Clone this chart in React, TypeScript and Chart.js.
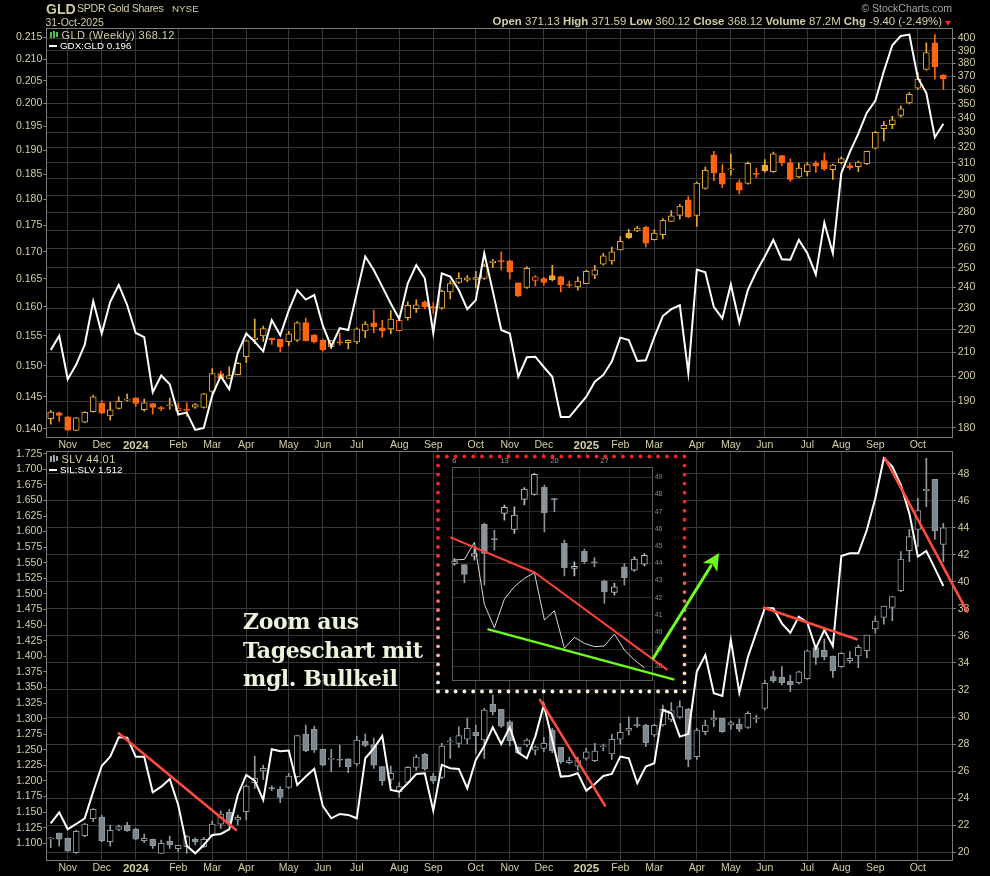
import React, { useEffect, useRef } from "react";
import { Chart, registerables } from "chart.js";
Chart.register(...registerables);

// ---------------- DATA ----------------
// weekly bars, index 0 = week of 23-Oct-2023 ... index 105 = week of 27-Oct-2025
const monthTickIdx = [2, 6, 10, 15, 19, 23, 28, 32, 36, 41, 45, 50, 54, 58, 63, 67, 71, 76, 80, 84, 89, 93, 97, 102];
const monthTickLabels = ["Nov", "Dec", "2024", "Feb", "Mar", "Apr", "May", "Jun", "Jul", "Aug", "Sep", "Oct", "Nov", "Dec", "2025", "Feb", "Mar", "Apr", "May", "Jun", "Jul", "Aug", "Sep", "Oct"];

const gldOpen = [183.4, 185.6, 184.1, 179.0, 182.1, 186.0, 189.3, 184.4, 187.3, 190.5, 191.4, 186.8, 189.1, 187.4, 188.3, 186.4, 186.6, 187.8, 187.7, 193.9, 201.2, 199.2, 200.7, 208.2, 215.7, 217.3, 216.4, 215.8, 214.8, 215.4, 223.3, 217.8, 215.4, 212.5, 214.3, 214.3, 214.6, 219.5, 223.2, 220.9, 220.5, 219.7, 225.6, 229.8, 232.9, 230.4, 230.0, 237.9, 242.5, 243.6, 244.0, 244.5, 252.6, 253.3, 253.5, 242.3, 240.0, 243.5, 244.4, 246.0, 245.4, 241.3, 240.3, 241.9, 246.1, 251.8, 253.5, 259.3, 268.4, 269.6, 271.6, 264.7, 267.5, 274.9, 278.2, 287.3, 278.2, 294.1, 315.1, 303.3, 305.5, 297.6, 297.1, 303.0, 308.5, 304.4, 314.6, 310.0, 301.1, 304.4, 309.6, 311.4, 305.6, 310.0, 308.3, 307.5, 309.4, 319.4, 332.4, 335.2, 341.6, 350.5, 361.2, 375.4, 396.6, 371.13];
const gldHigh = [186.5, 185.9, 184.2, 183.9, 186.0, 192.5, 190.3, 189.7, 191.8, 192.9, 191.4, 190.9, 189.1, 188.1, 191.3, 189.4, 189.4, 189.1, 193.2, 203.2, 202.2, 204.0, 205.8, 215.4, 224.9, 221.7, 216.4, 215.8, 219.4, 223.8, 225.4, 217.8, 215.8, 215.4, 218.6, 215.6, 221.0, 223.8, 229.2, 224.4, 228.9, 224.6, 233.0, 234.0, 233.5, 232.7, 238.7, 243.3, 247.4, 246.0, 248.1, 251.8, 254.3, 258.2, 253.9, 242.3, 250.5, 246.0, 245.1, 251.2, 245.5, 243.2, 245.3, 248.6, 251.2, 257.4, 260.7, 266.5, 270.5, 272.1, 272.1, 270.2, 276.4, 281.0, 284.7, 289.2, 298.0, 307.3, 317.3, 308.9, 315.6, 299.4, 310.4, 306.7, 312.1, 316.9, 314.6, 312.5, 309.8, 310.2, 311.1, 316.3, 309.2, 313.8, 310.0, 311.1, 317.5, 330.5, 337.6, 341.0, 348.4, 358.0, 373.1, 396.6, 403.2, 371.59];
const gldLow = [181.3, 182.3, 179.0, 178.9, 181.9, 185.8, 185.3, 182.8, 187.0, 190.1, 188.0, 186.2, 185.1, 186.4, 187.0, 185.1, 184.2, 187.3, 187.4, 193.2, 199.1, 199.1, 200.6, 205.7, 213.9, 214.9, 213.5, 210.3, 212.9, 214.8, 215.1, 214.2, 210.6, 211.7, 213.2, 211.6, 213.9, 216.5, 218.6, 216.8, 218.3, 219.4, 224.4, 228.0, 229.7, 227.6, 229.5, 234.4, 242.0, 242.8, 239.8, 244.0, 250.0, 248.8, 244.2, 235.5, 239.5, 240.8, 241.1, 243.3, 237.8, 240.0, 238.7, 241.9, 244.4, 251.2, 251.8, 259.1, 265.5, 269.1, 260.9, 264.5, 265.1, 274.8, 276.1, 277.0, 272.0, 293.7, 298.9, 294.5, 302.2, 290.8, 296.7, 300.7, 304.0, 304.0, 308.2, 298.4, 300.7, 301.8, 304.0, 305.1, 299.6, 309.2, 305.6, 304.4, 309.0, 319.0, 324.3, 332.4, 340.5, 349.8, 360.3, 374.9, 368.0, 360.12];
const gldClose = [185.9, 184.6, 179.1, 183.7, 185.8, 191.8, 185.5, 186.7, 190.0, 190.9, 189.2, 189.4, 187.7, 187.2, 188.5, 187.4, 186.5, 188.8, 193.0, 201.2, 199.2, 200.3, 205.4, 215.1, 216.5, 220.6, 215.7, 212.5, 218.3, 223.2, 215.1, 214.6, 211.3, 215.2, 214.2, 215.4, 220.5, 222.7, 221.4, 219.7, 224.9, 224.4, 231.4, 231.6, 230.8, 230.3, 238.2, 242.0, 244.7, 244.8, 245.0, 250.8, 253.4, 253.1, 247.7, 235.9, 249.6, 245.3, 242.5, 243.9, 241.4, 241.0, 243.2, 248.1, 248.9, 256.1, 258.2, 263.9, 265.8, 271.1, 262.9, 268.4, 275.5, 278.0, 283.7, 277.6, 297.3, 305.3, 303.6, 296.7, 305.8, 293.1, 309.6, 302.7, 304.8, 315.8, 310.0, 299.6, 306.7, 308.9, 307.8, 305.9, 308.5, 312.7, 306.8, 310.4, 317.3, 330.0, 334.8, 338.6, 346.3, 356.8, 368.0, 388.7, 377.5, 368.12];
const gdxGldRatio = [0.1526, 0.1550, 0.1478, 0.1502, 0.1535, 0.1610, 0.1554, 0.1609, 0.1639, 0.1603, 0.1555, 0.1548, 0.1457, 0.1484, 0.1470, 0.1422, 0.1425, 0.1398, 0.1401, 0.1452, 0.1483, 0.1462, 0.1521, 0.1554, 0.1540, 0.1524, 0.1577, 0.1551, 0.1594, 0.1630, 0.1613, 0.1621, 0.1568, 0.1532, 0.1563, 0.1560, 0.1624, 0.1691, 0.1666, 0.1636, 0.1606, 0.1579, 0.1642, 0.1675, 0.1651, 0.1555, 0.1660, 0.1654, 0.1630, 0.1596, 0.1612, 0.1697, 0.1628, 0.1560, 0.1554, 0.1482, 0.1514, 0.1515, 0.1498, 0.1482, 0.1418, 0.1418, 0.1434, 0.1450, 0.1474, 0.1485, 0.1507, 0.1547, 0.1543, 0.1508, 0.1509, 0.1548, 0.1584, 0.1596, 0.1603, 0.1488, 0.1667, 0.1662, 0.1600, 0.1580, 0.1640, 0.1573, 0.1630, 0.1663, 0.1691, 0.1722, 0.1686, 0.1685, 0.1722, 0.1697, 0.1658, 0.1755, 0.1697, 0.1853, 0.1896, 0.1935, 0.1980, 0.2006, 0.2072, 0.2132, 0.2154, 0.2157, 0.2057, 0.2023, 0.1927, 0.1956];

const slvOpen = [20.98, 21.41, 21.04, 19.95, 21.21, 22.47, 22.59, 20.77, 21.68, 21.98, 21.70, 20.84, 20.94, 19.90, 20.81, 20.25, 20.39, 20.94, 20.39, 21.21, 22.07, 22.94, 22.37, 22.99, 25.14, 26.00, 24.78, 24.64, 24.79, 25.58, 28.74, 29.09, 27.63, 26.86, 26.82, 26.91, 26.52, 28.20, 27.95, 26.32, 25.38, 24.47, 25.16, 26.27, 27.23, 25.63, 25.53, 28.17, 28.05, 28.35, 28.89, 28.30, 30.96, 30.57, 29.65, 27.75, 27.93, 27.55, 27.68, 29.04, 27.75, 26.62, 26.37, 26.94, 26.77, 27.80, 27.26, 28.35, 29.00, 29.43, 29.41, 28.67, 29.41, 29.83, 29.98, 30.57, 27.06, 28.91, 29.78, 29.90, 29.41, 29.48, 29.23, 29.85, 30.64, 32.99, 32.94, 32.64, 32.54, 32.84, 35.14, 34.94, 34.52, 33.73, 34.17, 34.52, 34.91, 36.52, 37.38, 38.12, 39.36, 42.32, 43.90, 46.77, 47.60, 42.79];
const slvHigh = [21.08, 21.41, 21.04, 21.60, 22.12, 23.21, 22.72, 22.00, 22.00, 22.20, 21.75, 21.33, 20.96, 20.89, 21.19, 20.49, 21.21, 21.06, 21.09, 22.30, 23.06, 23.16, 22.74, 24.96, 27.11, 26.44, 24.91, 24.84, 25.83, 28.67, 29.41, 29.33, 27.63, 27.60, 27.93, 26.91, 28.59, 28.74, 28.44, 26.32, 26.37, 25.14, 26.32, 27.19, 27.31, 25.83, 28.05, 28.47, 29.28, 29.90, 29.41, 30.64, 31.63, 30.57, 29.73, 27.80, 28.40, 27.85, 28.49, 29.16, 27.75, 27.01, 27.01, 27.68, 28.05, 28.00, 28.72, 29.53, 30.02, 29.98, 29.46, 29.46, 30.89, 31.06, 31.19, 30.64, 29.16, 29.78, 30.47, 29.90, 29.70, 29.85, 30.40, 30.15, 32.74, 33.41, 33.73, 33.11, 33.41, 34.96, 35.14, 35.78, 34.52, 34.77, 34.84, 35.33, 36.07, 37.48, 38.22, 38.91, 42.25, 43.90, 46.20, 49.16, 47.60, 44.35];
const slvLow = [20.32, 20.44, 20.07, 19.90, 21.14, 22.25, 20.77, 20.44, 21.58, 21.53, 20.89, 20.69, 20.27, 19.90, 20.27, 20.02, 19.90, 20.52, 20.35, 21.14, 21.75, 22.00, 22.00, 22.37, 24.72, 25.38, 24.54, 23.65, 24.72, 25.53, 27.43, 27.38, 26.37, 25.95, 26.32, 25.88, 26.37, 27.80, 26.20, 24.96, 25.04, 24.05, 25.04, 26.07, 26.07, 25.09, 25.43, 26.94, 27.75, 28.00, 27.31, 26.94, 30.15, 29.23, 27.85, 27.31, 27.80, 27.19, 27.43, 27.36, 26.57, 26.52, 26.07, 26.81, 26.69, 27.51, 26.86, 28.00, 28.67, 29.23, 27.80, 28.54, 29.33, 29.65, 29.90, 26.32, 26.86, 28.67, 29.28, 28.86, 29.09, 28.91, 29.16, 29.58, 30.52, 32.54, 32.37, 31.88, 32.45, 32.79, 33.90, 34.22, 32.94, 33.68, 33.98, 33.66, 34.40, 36.20, 36.87, 37.14, 39.28, 41.51, 42.62, 45.58, 43.16, 41.51];
const slvClose = [21.02, 20.96, 20.07, 21.53, 22.07, 23.16, 20.84, 21.60, 21.88, 21.58, 20.96, 21.01, 20.47, 20.64, 20.54, 20.49, 21.14, 20.77, 20.94, 22.07, 22.82, 22.25, 22.57, 24.89, 25.46, 26.20, 24.70, 24.05, 25.63, 28.62, 27.51, 27.56, 26.44, 26.90, 26.80, 26.32, 28.30, 27.90, 26.44, 25.28, 25.83, 24.84, 26.27, 27.04, 26.15, 25.28, 27.85, 28.20, 28.62, 29.16, 28.62, 30.52, 30.40, 29.33, 28.25, 27.36, 28.30, 27.80, 28.05, 27.51, 26.69, 26.77, 26.77, 27.43, 27.48, 27.81, 28.35, 28.86, 29.16, 29.36, 28.10, 29.38, 30.57, 30.47, 30.77, 26.86, 29.04, 29.41, 29.90, 28.91, 29.58, 29.09, 30.27, 29.86, 32.49, 32.69, 32.54, 32.39, 33.34, 34.91, 34.42, 34.47, 33.43, 34.72, 34.35, 35.16, 36.07, 37.11, 38.22, 38.91, 41.70, 43.36, 45.28, 46.86, 43.80, 44.01];
const silSlvRatio = [1.1321, 1.1497, 1.1225, 1.1310, 1.1401, 1.1829, 1.2241, 1.2390, 1.2700, 1.2695, 1.2390, 1.2390, 1.1818, 1.1909, 1.2032, 1.1615, 1.0960, 1.0840, 1.0973, 1.1134, 1.1150, 1.1225, 1.1775, 1.2096, 1.2005, 1.1695, 1.2508, 1.2476, 1.2487, 1.1936, 1.2070, 1.2193, 1.1599, 1.1401, 1.1471, 1.1455, 1.1401, 1.2364, 1.2524, 1.2722, 1.1856, 1.1829, 1.1963, 1.2112, 1.2123, 1.1524, 1.2257, 1.2203, 1.2193, 1.1883, 1.2337, 1.2562, 1.2861, 1.2594, 1.2861, 1.2455, 1.2364, 1.2711, 1.3219, 1.2658, 1.2070, 1.2080, 1.2123, 1.1845, 1.1952, 1.2080, 1.2113, 1.2391, 1.2364, 1.1963, 1.2230, 1.2284, 1.3139, 1.3086, 1.2711, 1.2754, 1.3754, 1.4021, 1.3406, 1.3364, 1.4262, 1.3417, 1.3984, 1.4379, 1.4770, 1.4770, 1.4529, 1.4379, 1.4636, 1.4540, 1.4128, 1.4422, 1.4165, 1.5609, 1.5652, 1.5652, 1.6026, 1.6534, 1.7176, 1.7042, 1.6748, 1.6293, 1.5598, 1.5689, 1.5411, 1.5128];

const gldTicks = [180, 190, 200, 210, 220, 230, 240, 250, 260, 270, 280, 290, 300, 310, 320, 330, 340, 350, 360, 370, 380, 390, 400];
const gdxGldTicks = [0.140, 0.145, 0.150, 0.155, 0.160, 0.165, 0.170, 0.175, 0.180, 0.185, 0.190, 0.195, 0.200, 0.205, 0.210, 0.215];
const slvTicks = [20, 22, 24, 26, 28, 30, 32, 34, 36, 38, 40, 42, 44, 46, 48];
const silSlvTicks = [1.100, 1.125, 1.150, 1.175, 1.200, 1.225, 1.250, 1.275, 1.300, 1.325, 1.350, 1.375, 1.400, 1.425, 1.450, 1.475, 1.500, 1.525, 1.550, 1.575, 1.600, 1.625, 1.650, 1.675, 1.700, 1.725];

// red trend lines on SIL:SLV (week index, ratio)
const slvTrendLines: [number, number][][] = [
  [[8.0, 1.2765], [21.8, 1.1214]],
  [[57.56, 1.33], [65.2, 1.1605]],
  [[83.9, 1.478], [94.8, 1.4272]],
  [[98.15, 1.7176], [107.8, 1.4716]],
];

// inset: daily SLV, October 2025 (index 0 = 6-Oct)
const insetTickIdx = [0, 5, 10, 15];
const insetTickLabels = ["6", "13", "20", "27"];
const insetOpen = [43.97, 43.93, 44.42, 46.26, 45.42, 46.90, 45.97, 47.72, 48.01, 48.42, 47.74, 45.16, 43.70, 44.71, 44.06, 42.96, 42.30, 43.80, 43.60, 43.95];
const insetHigh = [44.28, 43.93, 44.86, 46.32, 45.93, 47.39, 47.29, 48.40, 49.23, 48.55, 47.78, 45.35, 44.09, 44.83, 44.33, 43.02, 42.83, 43.99, 44.38, 44.57];
const insetLow = [43.89, 42.88, 44.18, 42.73, 44.77, 46.51, 45.74, 47.39, 47.97, 45.83, 47.00, 43.27, 43.27, 44.00, 43.81, 41.66, 42.15, 42.73, 43.54, 43.85];
const insetClose = [44.13, 43.35, 44.57, 44.57, 45.38, 47.25, 46.81, 48.32, 49.17, 46.94, 47.70, 43.74, 43.83, 44.09, 44.02, 42.34, 42.63, 43.17, 44.24, 44.46];
const insetRatio = [1.6393, 1.6401, 1.6601, 1.5872, 1.5598, 1.5935, 1.6080, 1.6178, 1.6244, 1.5688, 1.5798, 1.5355, 1.5484, 1.5414, 1.5375, 1.5383, 1.5524, 1.5336, 1.5218, 1.5128];
const insetPriceTicks = [38, 39, 40, 41, 42, 43, 44, 45, 46, 47, 48, 49];
const insetRedWedge: [number, number][] = [[-0.33, 1.6656], [8.07, 1.6244], [21.23, 1.5108]];
const insetGreenWedge: [number, number][] = [[3.4, 1.5578], [21.9, 1.4991]];
const insetBreakout: [number, number][] = [[19.89, 1.5238], [26.46, 1.6476]];

// ---------------- STYLE ----------------
const KHAKI = "#d4cfa2";
const GRID = "#383838";
const GOLD = "#e9a832";
const ORANGE = "#ff6410";
const SLVC = "#8e9aa1";
const FONT = "'Liberation Sans', Arial, sans-serif";

const framePlugin = {
  id: "frame",
  beforeDatasetsDraw(chart: any, _a: any, opts: any) {
    const { left, top, right, bottom } = chart.chartArea;
    const ctx = chart.ctx;
    ctx.save();
    ctx.strokeStyle = (opts && opts.color) || "#7c7c7c";
    ctx.lineWidth = 1;
    ctx.strokeRect(Math.round(left) + 0.5, Math.round(top) + 0.5, Math.round(right - left), Math.round(bottom - top));
    ctx.restore();
  },
};

const trendPlugin = {
  id: "trend",
  afterDraw(chart: any, _a: any, opts: any) {
    if (!opts) return;
    const ctx = chart.ctx;
    const px = (axis: string, p: [number, number]) => [chart.scales.x.getPixelForValue(p[0]), chart.scales[axis].getPixelForValue(p[1])];
    ctx.save();
    ctx.lineCap = "round";
    ctx.lineJoin = "round";
    for (const ln of opts.lines || []) {
      ctx.beginPath();
      ctx.strokeStyle = ln.color;
      ctx.lineWidth = ln.width;
      ln.pts.forEach((p: [number, number], k: number) => {
        const [x, y] = px(ln.axis, p);
        if (k) ctx.lineTo(x, y); else ctx.moveTo(x, y);
      });
      ctx.stroke();
    }
    for (const ar of opts.arrows || []) {
      const [x1, y1] = px(ar.axis, ar.pts[0]);
      const [x2, y2] = px(ar.axis, ar.pts[1]);
      const a = Math.atan2(y2 - y1, x2 - x1);
      const hl = ar.head, hw = ar.head * 0.5;
      const bx = x2 - hl * Math.cos(a), by = y2 - hl * Math.sin(a);
      ctx.beginPath();
      ctx.strokeStyle = ar.color;
      ctx.lineWidth = ar.width;
      ctx.moveTo(x1, y1);
      ctx.lineTo(bx + 2 * Math.cos(a), by + 2 * Math.sin(a));
      ctx.stroke();
      ctx.beginPath();
      ctx.fillStyle = ar.color;
      ctx.moveTo(x2, y2);
      ctx.lineTo(bx + hw * Math.sin(a), by - hw * Math.cos(a));
      ctx.lineTo(bx + 0.25 * hl * Math.cos(a), by + 0.25 * hl * Math.sin(a));
      ctx.lineTo(bx - hw * Math.sin(a), by + hw * Math.cos(a));
      ctx.closePath();
      ctx.fill();
    }
    ctx.restore();
  },
};

const insetDecor = {
  id: "insetDecor",
  beforeDraw(chart: any, _a: any, opts: any) {
    const ctx = chart.ctx;
    const [x, y, w, h] = opts.bg;
    ctx.save();
    ctx.fillStyle = "#000";
    ctx.fillRect(x, y, w, h);
    ctx.restore();
  },
  beforeDatasetsDraw(chart: any) {
    const { left, top, right, bottom } = chart.chartArea;
    const ctx = chart.ctx;
    ctx.save();
    ctx.strokeStyle = "#5a5a5a";
    ctx.lineWidth = 1;
    ctx.strokeRect(Math.round(left) + 0.5, Math.round(top) + 0.5, Math.round(right - left), Math.round(bottom - top));
    ctx.restore();
  },
  afterDraw(chart: any, _a: any, opts: any) {
    const ctx = chart.ctx;
    const [x0, y0, x1, y1] = opts.dots;
    const col = (t: number) => {
      const red = [255, 34, 34], mid = [245, 150, 130], end = [255, 244, 224];
      let c;
      if (t < 0.35) c = red;
      else if (t < 0.75) { const k = (t - 0.35) / 0.4; c = red.map((v, i) => v + (mid[i] - v) * k); }
      else { const k = (t - 0.75) / 0.25; c = mid.map((v, i) => v + (end[i] - v) * k); }
      return `rgb(${c.map(Math.round).join(",")})`;
    };
    const dot = (x: number, y: number) => {
      ctx.beginPath();
      ctx.fillStyle = col((y - y0) / (y1 - y0));
      ctx.arc(x, y, 1.9, 0, Math.PI * 2);
      ctx.fill();
    };
    ctx.save();
    const nx = 28, ny = 26;
    for (let i = 0; i <= nx; i++) { const x = x0 + ((x1 - x0) * i) / nx; dot(x, y0); dot(x, y1); }
    for (let j = 1; j < ny; j++) { const y = y0 + ((y1 - y0) * j) / ny; dot(x0, y); dot(x1, y); }
    ctx.restore();
  },
};

function candleSets(o: number[], h: number[], l: number[], c: number[], colorOf: (i: number) => string, fillOf: (i: number) => string, yAxisID: string, bodyW: number) {
  const idx = o.map((_, i) => i);
  return [
    {
      type: "bar", data: idx.map((i) => ({ x: i, y: [l[i], h[i]] })), yAxisID,
      backgroundColor: idx.map(colorOf), borderWidth: 0, barThickness: 1, grouped: false, order: 3,
    },
    {
      type: "bar", data: idx.map((i) => ({ x: i, y: [o[i], c[i]] })), yAxisID,
      backgroundColor: idx.map(fillOf), borderColor: idx.map(colorOf), borderWidth: 1, borderSkipped: false,
      barThickness: bodyW, minBarLength: 1, grouped: false, order: 2,
    },
  ];
}

function xAxis(height: number) {
  return {
    type: "linear", min: -0.52, max: 106.1, offset: false,
    afterBuildTicks: (s: any) => { s.ticks = monthTickIdx.map((v) => ({ value: v })); },
    afterFit: (s: any) => { s.height = height; },
    grid: { color: GRID, drawTicks: false, offset: false },
    border: { display: false },
    ticks: {
      autoSkip: false, maxRotation: 0, padding: 2, color: KHAKI,
      font: (ctx: any) => {
        const lab = monthTickLabels[ctx.index] || "";
        const yr = /^\d{4}$/.test(lab);
        return { family: FONT, size: yr ? 11.5 : 10.5, weight: yr ? "bold" : "normal" };
      },
      callback: (_v: any, i: number) => monthTickLabels[i],
    },
  };
}

function yAxis(kind: string, pos: string, min: number, max: number, ticks: number[], width: number, grid: boolean, dec: number) {
  return {
    type: kind, position: pos, min, max,
    afterBuildTicks: (s: any) => { s.ticks = ticks.map((v) => ({ value: v })); },
    afterFit: (s: any) => { s.width = width; },
    grid: { drawOnChartArea: grid, color: GRID, drawTicks: true, tickLength: 3, tickColor: "#8a8a8a" },
    border: { display: false },
    ticks: { autoSkip: false, padding: pos === "left" ? 1 : 2, color: KHAKI, font: { family: FONT, size: 10.5 }, callback: (v: any) => Number(v).toFixed(dec) },
  };
}

export default function App() {
  const topRef = useRef<HTMLCanvasElement>(null);
  const botRef = useRef<HTMLCanvasElement>(null);
  const insRef = useRef<HTMLCanvasElement>(null);

  useEffect(() => {
    document.body.style.margin = "0";
    document.body.style.background = "#000";
    const common = { animation: false, responsive: false, events: [] as any[] };

    const gldColor = (i: number) => (i === 0 || gldClose[i] >= gldClose[i - 1] ? GOLD : ORANGE);
    const top = new Chart(topRef.current as HTMLCanvasElement, {
      type: "bar",
      data: {
        datasets: [
          { type: "line", data: gdxGldRatio.map((v, i) => ({ x: i, y: v })), yAxisID: "yL", borderColor: "#ffffff", borderWidth: 2, pointRadius: 0, tension: 0, order: 1 },
          ...candleSets(gldOpen, gldHigh, gldLow, gldClose, gldColor, (i) => (gldClose[i] < gldOpen[i] ? gldColor(i) : "#000"), "yR", 6),
        ] as any,
      },
      options: {
        ...common,
        layout: { padding: { top: 28.3, left: 0, right: 0, bottom: 0 } },
        plugins: { legend: { display: false }, tooltip: { enabled: false } },
        scales: {
          x: xAxis(13.7),
          yL: yAxis("logarithmic", "left", 0.13868, 0.2172, gdxGldTicks, 46.3, false, 3),
          yR: yAxis("logarithmic", "right", 176.5, 408.5, gldTicks, 37.3, true, 0),
        } as any,
      },
      plugins: [framePlugin],
    } as any);

    const bot = new Chart(botRef.current as HTMLCanvasElement, {
      type: "bar",
      data: {
        datasets: [
          { type: "line", data: silSlvRatio.map((v, i) => ({ x: i, y: v })), yAxisID: "yL", borderColor: "#ffffff", borderWidth: 2, pointRadius: 0, tension: 0, order: 1 },
          ...candleSets(slvOpen, slvHigh, slvLow, slvClose, () => SLVC, (i) => (slvClose[i] < slvOpen[i] ? "#7c878e" : "#000"), "yR", 6),
        ] as any,
      },
      options: {
        ...common,
        layout: { padding: { top: 11, left: 0, right: 0, bottom: 0 } },
        plugins: {
          legend: { display: false }, tooltip: { enabled: false },
          trend: { lines: slvTrendLines.map((pts) => ({ axis: "yL", pts, color: "#ff4b3e", width: 2.6 })) },
        },
        scales: {
          x: xAxis(16),
          yL: yAxis("linear", "left", 1.0732, 1.7293, silSlvTicks, 46.3, false, 3),
          yR: yAxis("linear", "right", 19.41, 49.7, slvTicks, 37.3, true, 0),
        } as any,
      },
      plugins: [framePlugin, trendPlugin],
    } as any);

    const ins = new Chart(insRef.current as HTMLCanvasElement, {
      type: "bar",
      data: {
        datasets: [
          { type: "line", data: insetRatio.map((v, i) => ({ x: i, y: v })), yAxisID: "yr", borderColor: "#d8d8d8", borderWidth: 1, pointRadius: 0, tension: 0, order: 1 },
          ...candleSets(insetOpen, insetHigh, insetLow, insetClose, (i) => (insetClose[i] < insetOpen[i] ? "#8a949a" : "#b9c1c5"), (i) => (insetClose[i] < insetOpen[i] ? "#8a949a" : "#000"), "y", 6),
        ] as any,
      },
      options: {
        ...common,
        layout: { padding: { top: 6.7, left: 17.7, right: 0, bottom: 20 } },
        plugins: {
          legend: { display: false }, tooltip: { enabled: false },
          insetDecor: { bg: [6, 5, 246, 225], dots: [4, 6.5, 250.5, 241.5] },
          trend: {
            lines: [
              { axis: "yr", pts: insetRedWedge, color: "#ff4238", width: 2 },
              { axis: "yr", pts: insetGreenWedge, color: "#6cff1c", width: 2.4 },
            ],
            arrows: [{ axis: "yr", pts: insetBreakout, color: "#6cff1c", width: 3, head: 17 }],
          },
        },
        scales: {
          x: {
            type: "linear", position: "top", min: -0.27, max: 19.73, offset: false,
            afterBuildTicks: (s: any) => { s.ticks = insetTickIdx.map((v) => ({ value: v })); },
            afterFit: (s: any) => { s.height = 10; },
            grid: { color: "#2e2e2e", drawTicks: false }, border: { display: false },
            ticks: { autoSkip: false, maxRotation: 0, padding: 1, color: "#9a9a9a", font: { family: FONT, size: 7.5 }, callback: (_v: any, i: number) => insetTickLabels[i] },
          },
          y: {
            type: "linear", position: "right", min: 37.21, max: 49.62,
            afterBuildTicks: (s: any) => { s.ticks = insetPriceTicks.map((v) => ({ value: v })); },
            afterFit: (s: any) => { s.width = 92.3; },
            grid: { color: "#2a2a2a", drawTicks: false }, border: { display: false },
            ticks: { autoSkip: false, padding: 3, color: "#8a8a8a", font: { family: FONT, size: 7 }, callback: (v: any) => String(v) },
          },
          yr: { type: "linear", display: false, min: 1.4983, max: 1.749 },
        } as any,
      },
      plugins: [insetDecor, trendPlugin],
    } as any);

    return () => { top.destroy(); bot.destroy(); ins.destroy(); };
  }, []);

  const abs = (l: number, t: number, extra: any = {}) => ({ position: "absolute" as const, left: l, top: t, whiteSpace: "nowrap" as const, ...extra });
  const lab = { fontWeight: "bold" as const };

  return (
    <div style={{ position: "absolute", left: 0, top: 0, width: 990, height: 876, background: "#000", overflow: "hidden", fontFamily: FONT, color: KHAKI }}>
      <canvas ref={topRef} width={990} height={451} style={{ position: "absolute", left: 0, top: 0, width: 990, height: 451 }} />
      <canvas ref={botRef} width={990} height={436} style={{ position: "absolute", left: 0, top: 440, width: 990, height: 436 }} />
      <canvas ref={insRef} width={310} height={250} style={{ position: "absolute", left: 434, top: 450, width: 310, height: 250 }} />

      {/* header */}
      <div style={abs(46, 0.5, { fontSize: 14, fontWeight: "bold", color: "#cfc99c" })}>GLD</div>
      <div style={abs(77, 2, { fontSize: 10.6, letterSpacing: -0.3 })}>SPDR Gold Shares</div>
      <div style={abs(172, 3, { fontSize: 9.8 })}>NYSE</div>
      <div style={abs(45.5, 16, { fontSize: 10.5 })}>31-Oct-2025</div>
      <div style={abs(0, 2, { width: 952, textAlign: "right", fontSize: 10.5, color: "#a5a5a5" })}>© StockCharts.com</div>
      <div style={abs(0, 15, { width: 942, textAlign: "right", fontSize: 11.4 })}>
        <span style={lab}>Open</span> 371.13 <span style={lab}>High</span> 371.59 <span style={lab}>Low</span> 360.12{" "}
        <span style={lab}>Close</span> 368.12 <span style={lab}>Volume</span> 87.2M <span style={lab}>Chg</span> -9.40 (-2.49%)
      </div>
      <div style={abs(945, 21, { width: 0, height: 0, borderLeft: "3.5px solid transparent", borderRight: "3.5px solid transparent", borderTop: "5px solid #ff2020" })} />

      {/* legends */}
      <div style={abs(49.5, 31.5, { width: 2, height: 6, border: "1px solid #4cc14c", boxSizing: "border-box" })} />
      <div style={abs(53, 31, { width: 2, height: 7, background: "#4cc14c" })} />
      <div style={abs(56, 32, { width: 2, height: 5, border: "1px solid #4cc14c", boxSizing: "border-box" })} />
      <div style={abs(61.5, 29, { fontSize: 11, letterSpacing: 0.4, lineHeight: "13px" })}>GLD (Weekly) 368.12</div>
      <div style={abs(49, 44.5, { width: 8, height: 2, background: "#fff" })} />
      <div style={abs(60, 40, { fontSize: 9.8, color: "#fff", lineHeight: "12px" })}>GDX:GLD 0.196</div>

      <div style={abs(49.5, 455.5, { width: 2, height: 6, border: "1px solid #9aa5ab", boxSizing: "border-box" })} />
      <div style={abs(53, 455, { width: 2, height: 7, background: "#9aa5ab" })} />
      <div style={abs(56, 456, { width: 2, height: 5, border: "1px solid #9aa5ab", boxSizing: "border-box" })} />
      <div style={abs(61.5, 452.5, { fontSize: 11, letterSpacing: 0.4, lineHeight: "13px" })}>SLV 44.01</div>
      <div style={abs(49, 468.5, { width: 8, height: 2, background: "#fff" })} />
      <div style={abs(60, 463.5, { fontSize: 9.8, color: "#fff", lineHeight: "12px" })}>SIL:SLV 1.512</div>

      {/* annotation text */}
      <div style={abs(243, 607, { fontFamily: "'DejaVu Serif', serif", fontWeight: "bold", fontSize: 22, letterSpacing: -0.4, lineHeight: "28.5px", color: "#eaf5dc" })}>
        Zoom aus<br />Tageschart mit<br />mgl. Bullkeil
      </div>
    </div>
  );
}
